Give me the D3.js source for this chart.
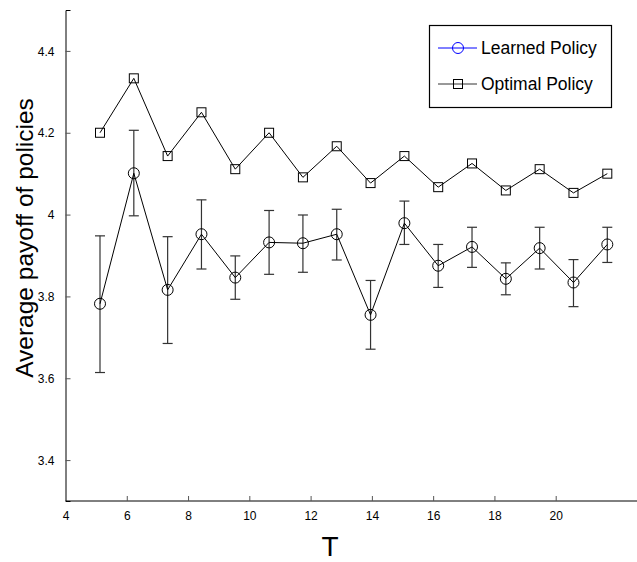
<!DOCTYPE html>
<html>
<head>
<meta charset="utf-8">
<script src="https://cdn.jsdelivr.net/npm/d3@7"></script>
<style>
  body { margin: 0; background: #fff; }
  text { font-family: "Liberation Sans", Arial, sans-serif; }
</style>
</head>
<body>
<script>
const T = [5, 6, 7, 8, 9, 10, 11, 12, 13, 14, 15, 16, 17, 18, 19, 20];
const optimal = [4.2, 4.333, 4.143, 4.25, 4.111, 4.2, 4.091, 4.167, 4.077, 4.143, 4.067, 4.125, 4.059, 4.111, 4.053, 4.1];
const learned = [3.782, 4.101, 3.816, 3.952, 3.846, 3.932, 3.930, 3.952, 3.755, 3.979, 3.875, 3.921, 3.843, 3.918, 3.834, 3.927];
const learnedLow = [3.614, 3.997, 3.685, 3.867, 3.793, 3.854, 3.859, 3.889, 3.671, 3.927, 3.822, 3.871, 3.804, 3.867, 3.775, 3.883];
const learnedHigh = [3.948, 4.206, 3.946, 4.036, 3.899, 4.010, 3.999, 4.013, 3.839, 4.033, 3.927, 3.969, 3.882, 3.969, 3.890, 3.969];
const xTicks = [4, 6, 8, 10, 12, 14, 16, 18, 20];
const yTicks = [3.4, 3.6, 3.8, 4, 4.2, 4.4];

const width = 637;
const height = 562;

const svg = d3.select("body").append("svg")
  .attr("width", width)
  .attr("height", height);

// the tick labels and the plotted points use different spacing in the original figure
const xAxisScale = d3.scaleLinear().domain([4, 20]).range([65.5, 555.7]);
const x = d3.scaleLinear().domain([5, 20]).range([100, 607.3]);
const y = d3.scaleLinear().domain([3.3, 4.5]).range([501, 10]);

// axes (matlab style, ticks pointing in)
const xAxis = svg.append("g").attr("transform", `translate(0,${y(3.3)})`)
  .call(d3.axisBottom(xAxisScale).tickValues(xTicks).tickSize(-5).tickPadding(10).tickFormat(d3.format("d")));
xAxis.select(".domain").attr("d", `M${xAxisScale(4)},0H${width}`);
const yAxis = svg.append("g").attr("transform", `translate(${xAxisScale(4)},0)`)
  .call(d3.axisLeft(y).tickValues(yTicks).tickSize(-5).tickPadding(11).tickFormat(d => d === 4 ? "4" : d3.format(".1f")(d)));

[xAxis, yAxis].forEach(a => {
  a.select(".domain").attr("stroke", "#000").attr("stroke-width", 1);
  a.selectAll(".tick line").attr("stroke", "#555");
  a.selectAll(".tick text").attr("font-size", 12).attr("fill", "#000")
    .style("font-family", "'Liberation Sans', Arial, sans-serif");
});
xAxis.select(".tick:first-of-type line").remove();
yAxis.selectAll(".tick text").attr("dy", "0.35em");

svg.append("text")
  .attr("x", 330).attr("y", 556)
  .attr("text-anchor", "middle")
  .attr("font-size", 28)
  .text("T");

svg.append("text")
  .attr("transform", "translate(33,238) rotate(-90)")
  .attr("text-anchor", "middle")
  .attr("font-size", 24.5)
  .text("Average payoff of policies");

const line = d3.line().x(d => x(d[0])).y(d => y(d[1]));

// optimal
const opt = T.map((t, i) => [t, optimal[i]]);
svg.append("path").datum(opt).attr("d", line)
  .attr("fill", "none").attr("stroke", "#000").attr("stroke-width", 1);
svg.selectAll(".sq").data(opt).enter().append("rect")
  .attr("x", d => x(d[0]) - 4.5).attr("y", d => y(d[1]) - 4.5)
  .attr("width", 9).attr("height", 9)
  .attr("fill", "none").attr("stroke", "#000").attr("stroke-width", 1);

// learned error bars
const err = T.map((t, i) => ({ t, lo: learnedLow[i], hi: learnedHigh[i] }));
const eb = svg.selectAll(".eb").data(err).enter().append("g")
  .attr("stroke", "#333").attr("stroke-width", 1.2);
eb.append("line").attr("x1", d => x(d.t)).attr("x2", d => x(d.t))
  .attr("y1", d => y(d.lo)).attr("y2", d => y(d.hi));
eb.append("line").attr("x1", d => x(d.t) - 5).attr("x2", d => x(d.t) + 5)
  .attr("y1", d => y(d.lo)).attr("y2", d => y(d.lo));
eb.append("line").attr("x1", d => x(d.t) - 5).attr("x2", d => x(d.t) + 5)
  .attr("y1", d => y(d.hi)).attr("y2", d => y(d.hi));

const lrn = T.map((t, i) => [t, learned[i]]);
svg.append("path").datum(lrn).attr("d", line)
  .attr("fill", "none").attr("stroke", "#000").attr("stroke-width", 1);
svg.selectAll(".ci").data(lrn).enter().append("circle")
  .attr("cx", d => x(d[0])).attr("cy", d => y(d[1])).attr("r", 5.5)
  .attr("fill", "none").attr("stroke", "#000").attr("stroke-width", 1);

// legend
const lg = svg.append("g");
lg.append("rect").attr("x", 429.5).attr("y", 25.5).attr("width", 182).attr("height", 82)
  .attr("fill", "#fff").attr("stroke", "#000").attr("stroke-width", 1.2);
const items = [
  { name: "Learned Policy", color: "#0000ff", shape: "circle", yy: 48 },
  { name: "Optimal Policy", color: "#333", shape: "square", yy: 84 }
];
items.forEach(it => {
  lg.append("line").attr("x1", 438).attr("x2", 477).attr("y1", it.yy).attr("y2", it.yy)
    .attr("stroke", it.color).attr("stroke-width", 1);
  if (it.shape === "circle") {
    lg.append("circle").attr("cx", 458).attr("cy", it.yy).attr("r", 5.5)
      .attr("fill", "none").attr("stroke", it.color);
  } else {
    lg.append("rect").attr("x", 453.5).attr("y", it.yy - 4.5).attr("width", 9).attr("height", 9)
      .attr("fill", "none").attr("stroke", "#000");
  }
  lg.append("text").attr("x", 481).attr("y", it.yy).attr("dy", "0.35em")
    .attr("font-size", 17.5).text(it.name);
});
</script>
</body>
</html>
